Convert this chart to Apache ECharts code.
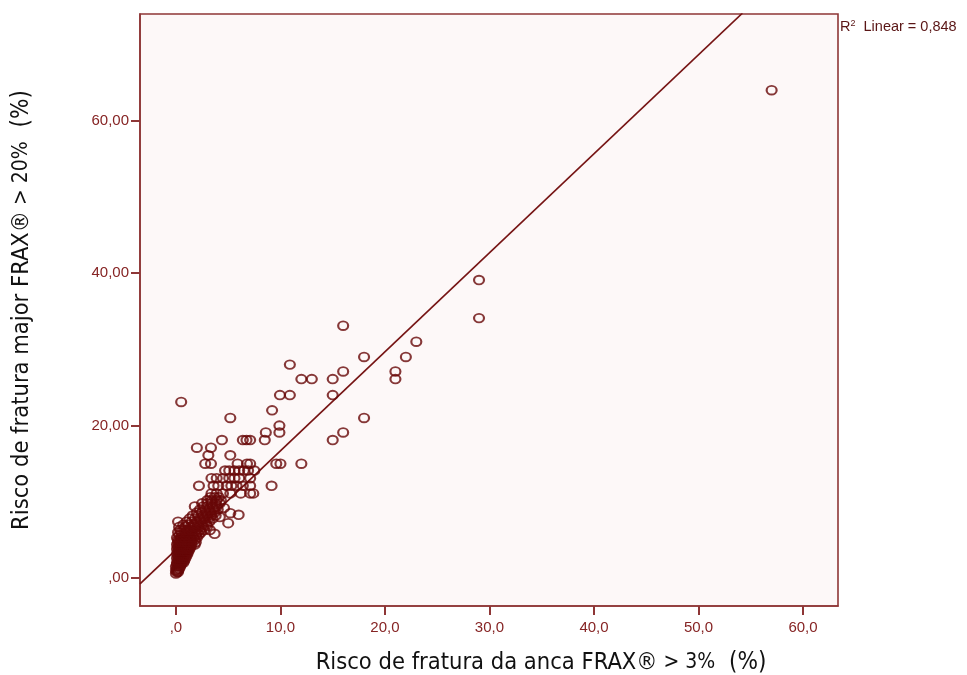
<!DOCTYPE html>
<html>
<head>
<meta charset="utf-8">
<script src="https://cdn.jsdelivr.net/npm/echarts@6/dist/echarts.min.js"></script>
<style>html,body{margin:0;padding:0;background:#fff}#c{width:967px;height:675px}</style>
</head>
<body>
<div id="c"></div>
<script>
// Tick values
const xTicks = [0, 10, 20, 30, 40, 50, 60];
const yTicks = [0, 20, 40, 60];

// Axis titles and annotation
const xTitle = ['Risco de fratura da anca FRAX®', ' > 3%', '  (%)'];
const yTitle = ['Risco de fratura major FRAX®', ' > 20%', '  (%)'];
const r2Label = ['R', '2', '  Linear = 0,848'];

// Fitted line endpoints
const fitLine = [[-3.44, -0.78], [54.2, 74.1]];

// Dense cluster near the origin [hip risk, major risk]
const clusterPoints = [
  [0.0,0.6],[0.1,0.8],[0.2,0.8],[0.0,1.0],[0.2,1.0],[0.1,1.2],[0.3,1.2],
  [0.0,1.5],[0.2,1.5],[0.4,1.5],[0.1,1.8],[0.3,1.8],[0.5,1.8],
  [0.1,2.0],[0.3,2.0],[0.5,2.0],[0.7,2.0],[0.2,2.3],[0.4,2.3],[0.6,2.3],[0.8,2.3],
  [0.1,2.6],[0.3,2.6],[0.5,2.6],[0.7,2.6],[0.9,2.6],
  [0.2,2.9],[0.4,2.9],[0.6,2.9],[0.8,2.9],[1.0,2.9],
  [0.1,3.2],[0.3,3.2],[0.5,3.2],[0.7,3.2],[0.9,3.2],[1.1,3.2],
  [0.2,3.5],[0.4,3.5],[0.6,3.5],[0.8,3.5],[1.0,3.5],[1.2,3.5],
  [0.1,3.8],[0.3,3.8],[0.5,3.8],[0.7,3.8],[0.9,3.8],[1.1,3.8],[1.3,3.8],
  [0.2,4.1],[0.4,4.1],[0.6,4.1],[0.8,4.1],[1.0,4.1],[1.2,4.1],[1.4,4.1],
  [0.1,4.4],[0.3,4.4],[0.5,4.4],[0.7,4.4],[0.9,4.4],[1.1,4.4],[1.3,4.4],[1.5,4.4],[1.8,4.4],
  [0.2,4.7],[0.4,4.7],[0.6,4.7],[0.8,4.7],[1.0,4.7],[1.3,4.7],[1.5,4.7],[1.9,4.7],
  [0.2,5.0],[0.4,5.0],[0.7,5.0],[1.0,5.0],[1.2,5.0],[1.5,5.0],[1.8,5.0],
  [0.1,5.3],[0.5,5.3],[0.8,5.3],[1.1,5.3],[1.4,5.3],[1.7,5.3],[2.0,5.3],
  [0.3,5.6],[0.6,5.6],[0.9,5.6],[1.3,5.6],[1.6,5.6],[1.9,5.6],[2.2,5.7],
  [0.2,6.0],[0.5,6.0],[0.9,6.0],[1.2,6.0],[1.6,6.0],[2.0,6.0],[2.4,6.0],
  [0.4,6.3],[0.8,6.3],[1.1,6.3],[1.5,6.3],[1.9,6.3],[2.3,6.3],[2.7,6.3],[3.25,6.3],
  [0.3,6.7],[0.9,6.7],[1.4,6.7],[1.8,6.7],[2.2,6.7],[2.6,6.7],[3.0,6.8],
  [0.7,7.0],[1.2,7.0],[1.7,7.0],[2.1,7.0],[2.5,7.0],[2.9,7.0],
  [0.2,7.4],[1.0,7.4],[1.5,7.4],[2.0,7.4],[2.4,7.4],[2.8,7.4],[3.2,7.4],
  [1.3,7.8],[1.8,7.8],[2.3,7.8],[2.7,7.8],[3.1,7.8],[3.5,7.8],
  [1.6,8.2],[2.1,8.2],[2.6,8.2],[3.0,8.2],[3.4,8.2],[3.8,8.2],
  [2.0,8.6],[2.5,8.6],[2.9,8.6],[3.3,8.6],[3.7,8.6],
  [2.3,9.0],[2.8,9.0],[3.2,9.0],[3.6,9.0],[4.0,9.0],
  [1.8,9.4],[2.6,9.4],[3.0,9.4],[3.5,9.4],[3.9,9.4],
  [2.5,9.8],[3.0,9.8],[3.4,9.8],[3.8,9.8],[4.2,9.8],
  [3.0,10.2],[3.4,10.2],[3.9,10.2],[4.3,10.2],
  [3.3,10.6],[3.7,10.6],[4.1,10.6],
  [3.7,5.8],[5.0,7.2],[4.2,8.0],[5.2,8.5],[6.0,8.3],[4.6,9.2]
];

// Mid-range points
const midPoints = [
  [3.4,11.1],[3.9,11.1],[4.5,11.1],[5.2,11.1],[6.2,11.1],[7.1,11.1],[7.4,11.1],
  [2.2,12.1],[3.6,12.1],[4.05,12.1],[4.85,12.1],[5.3,12.1],[5.8,12.1],[6.4,12.1],[7.1,12.1],[9.15,12.1],
  [3.4,13.1],[3.9,13.1],[4.5,13.1],[5.1,13.1],[5.6,13.1],[6.05,13.1],[7.1,13.1],
  [4.7,14.1],[5.1,14.1],[5.6,14.1],[6.05,14.1],[6.5,14.1],[6.9,14.1],[7.5,14.1],
  [2.8,15.0],[3.35,15.0],[5.9,15.0],[6.8,15.0],[7.1,15.0],[9.6,15.0],[10.0,15.0],[12.0,15.0],
  [3.1,16.1],[5.2,16.1],
  [2.0,17.1],[3.35,17.1],
  [4.4,18.1],[6.4,18.1],[6.75,18.1],[7.1,18.1],[8.5,18.1],[15.0,18.1],
  [8.6,19.1],[9.9,19.1],[16.0,19.1],
  [9.9,20.0],
  [5.2,21.0],[18.0,21.0],
  [9.2,22.0],
  [0.5,23.1],
  [9.95,24.0],[10.9,24.0],[15.0,24.0],
  [12.0,26.1],[13.0,26.1],[15.0,26.1],[21.0,26.1],
  [16.0,27.1],[21.0,27.1],
  [10.9,28.0],
  [18.0,29.0],[22.0,29.0],
  [23.0,31.0],
  [16.0,33.1],
  [29.0,34.1],[29.0,39.1],
  [57.0,64.0]
];

const chart = echarts.init(document.getElementById('c'), null, {renderer: 'canvas'});
const ink = '#680808';
const axisCol = '#8e3636';
const labCol = '#862424';

const xFmt = v => v === 0 ? ',0' : v.toFixed(1).replace('.', ',');
const yFmt = v => v === 0 ? ',00' : v.toFixed(2).replace('.', ',');

const tf = 'DejaVu Sans Condensed, DejaVu Sans';
const titleRich = {
  a: {fontFamily: tf, fontSize: 23.5, fill: '#111'},
  c: {fontFamily: tf, fontSize: 21, fill: '#111'},
  d: {fontFamily: tf, fontSize: 24, fill: '#111'}
};
const mkTitle = t => `{a|${t[0]}}{c|${t[1]}}{d|${t[2]}}`;

chart.setOption({
  animation: false,
  backgroundColor: '#ffffff',
  grid: {
    left: 140, top: 14, width: 698, height: 592,
    show: true, backgroundColor: '#fdf8f8', borderColor: axisCol, borderWidth: 1.6
  },
  xAxis: {
    type: 'value', min: -3.44, max: 63.35,
    splitLine: {show: false},
    axisLine: {show: true, onZero: false, lineStyle: {color: axisCol, width: 1.6}},
    axisTick: {show: true, length: 9, lineStyle: {color: axisCol, width: 2}, customValues: xTicks},
    axisLabel: {customValues: xTicks, formatter: xFmt, color: labCol, fontFamily: 'Liberation Sans, Arial', fontSize: 15, margin: 14}
  },
  yAxis: {
    type: 'value', min: -3.67, max: 74.0,
    splitLine: {show: false},
    axisLine: {show: true, onZero: false, lineStyle: {color: axisCol, width: 1.6}},
    axisTick: {show: true, length: 9, lineStyle: {color: axisCol, width: 2}, customValues: yTicks},
    axisLabel: {customValues: yTicks, formatter: yFmt, color: labCol, fontFamily: 'Liberation Sans, Arial', fontSize: 15, margin: 11}
  },
  series: [
    {
      type: 'line', data: fitLine, symbol: 'none', clip: true,
      lineStyle: {color: '#761414', width: 1.7}, z: 1
    },
    {
      type: 'scatter', data: clusterPoints.concat(midPoints),
      symbol: 'circle', symbolSize: [10, 8.6],
      itemStyle: {color: 'rgba(0,0,0,0)', borderColor: ink, borderWidth: 2},
      z: 2
    }
  ],
  graphic: [
    {type: 'text', x: 840, y: 19, style: {
      text: `{r|${r2Label[0]}}{s|${r2Label[1]}}{r|${r2Label[2]}}`,
      rich: {
        r: {fontFamily: 'Liberation Sans, Arial', fontSize: 14.5, fill: '#5a1616'},
        s: {fontFamily: 'Liberation Sans, Arial', fontSize: 9, fill: '#5a1616', verticalAlign: 'top', padding: [0, 0, 6, 0]}
      }
    }},
    {type: 'text', x: 541, y: 663, style: {text: mkTitle(xTitle), rich: titleRich, align: 'center', verticalAlign: 'middle'}},
    {type: 'text', x: 22, y: 310, rotation: Math.PI / 2, style: {text: mkTitle(yTitle), rich: titleRich, align: 'center', verticalAlign: 'middle'}}
  ]
});
</script>
</body>
</html>
